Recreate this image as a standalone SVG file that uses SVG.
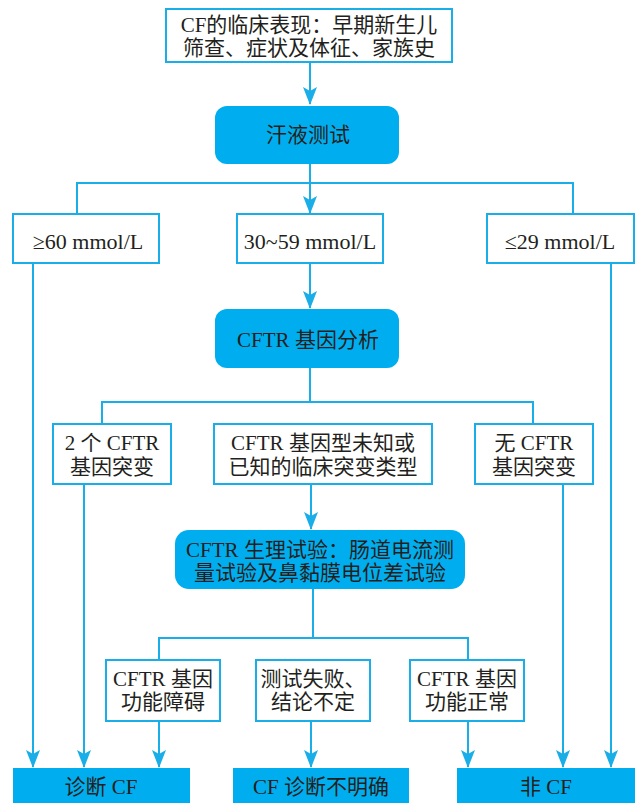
<svg xmlns="http://www.w3.org/2000/svg" width="637" height="803" viewBox="0 0 637 803">
<style>
.box{fill:#fff;stroke:#1aaee8;stroke-width:2}
.fill{fill:#00aeef;stroke:none}
.c{fill:none;stroke:#1aaee8;stroke-width:2}
text{font-family:"Liberation Serif","Noto Sans CJK SC",serif;font-size:21px;fill:#231f20;text-anchor:middle;dominant-baseline:central}
.l{font-size:22px}
</style>
<defs>
<marker id="ah" markerUnits="userSpaceOnUse" markerWidth="18" markerHeight="14" refX="17" refY="7" orient="auto" viewBox="0 0 18 14">
<path d="M0 0 L4 7 L0 14 L18 7 Z" fill="#1aaee8"/>
</marker>
</defs>
<rect width="637" height="803" fill="#fff"/>
<g id="connectors">
<path class="c" d="M310 62 V104" marker-end="url(#ah)"/>
<path class="c" d="M310 164 V183 M77 214 V183 H573 V214"/>
<path class="c" d="M310 183 V213" marker-end="url(#ah)"/>
<path class="c" d="M310 263 V308" marker-end="url(#ah)"/>
<path class="c" d="M310 368 V402 M102 424 V402 H533 V424"/>
<path class="c" d="M311 484 V529" marker-end="url(#ah)"/>
<path class="c" d="M313 589 V638 M159 660 V638 H468 V660"/>
<path class="c" d="M159 721 V767" marker-end="url(#ah)"/>
<path class="c" d="M311 721 V767" marker-end="url(#ah)"/>
<path class="c" d="M468 721 V767" marker-end="url(#ah)"/>
<path class="c" d="M33 263 V767" marker-end="url(#ah)"/>
<path class="c" d="M611 263 V767" marker-end="url(#ah)"/>
<path class="c" d="M84 484 V767" marker-end="url(#ah)"/>
<path class="c" d="M563 484 V767" marker-end="url(#ah)"/>
</g>
<g id="n-start"><rect class="box" x="166" y="9" width="286" height="53"/><text x="309" y="25">CF的临床表现：早期新生儿</text><text x="309" y="48">筛查、症状及体征、家族史</text></g>
<g id="n-sweat"><rect class="fill" x="215" y="106" width="184" height="58" rx="12"/><text x="308" y="135">汗液测试</text></g>
<g id="n-ge60"><rect class="box" x="13" y="214" width="146" height="49"/><text class="l" x="88" y="241">≥60 mmol/L</text></g>
<g id="n-30-59"><rect class="box" x="237" y="214" width="146" height="49"/><text class="l" x="310" y="241">30~59 mmol/L</text></g>
<g id="n-le29"><rect class="box" x="487" y="214" width="147" height="49"/><text class="l" x="560" y="241">≤29 mmol/L</text></g>
<g id="n-gene"><rect class="fill" x="215" y="309" width="184" height="59" rx="12"/><text x="308" y="340">CFTR 基因分析</text></g>
<g id="n-two"><rect class="box" x="53" y="424" width="118" height="60"/><text x="112" y="443">2 个 CFTR</text><text x="112" y="467">基因突变</text></g>
<g id="n-unknown"><rect class="box" x="214" y="424" width="218" height="60"/><text x="323" y="443">CFTR 基因型未知或</text><text x="323" y="467">已知的临床突变类型</text></g>
<g id="n-none"><rect class="box" x="475" y="424" width="118" height="60"/><text x="534" y="443">无 CFTR</text><text x="534" y="467">基因突变</text></g>
<g id="n-physio"><rect class="fill" x="175" y="530" width="290" height="59" rx="14"/><text x="320" y="550">CFTR 生理试验：肠道电流测</text><text x="320" y="573">量试验及鼻黏膜电位差试验</text></g>
<g id="n-dys"><rect class="box" x="106" y="660" width="114" height="61"/><text x="163" y="679">CFTR 基因</text><text x="163" y="702">功能障碍</text></g>
<g id="n-fail"><rect class="box" x="256" y="660" width="114" height="61"/><text x="313" y="679">测试失败、</text><text x="313" y="702">结论不定</text></g>
<g id="n-normal"><rect class="box" x="410" y="660" width="114" height="61"/><text x="467" y="679">CFTR 基因</text><text x="467" y="702">功能正常</text></g>
<g id="n-cf"><rect class="fill" x="13" y="768" width="177" height="40"/><text x="101" y="787">诊断 CF</text></g>
<g id="n-unclear"><rect class="fill" x="233" y="768" width="176" height="40"/><text x="321" y="787">CF 诊断不明确</text></g>
<g id="n-noncf"><rect class="fill" x="457" y="768" width="178" height="40"/><text x="546" y="787">非 CF</text></g>
</svg>
